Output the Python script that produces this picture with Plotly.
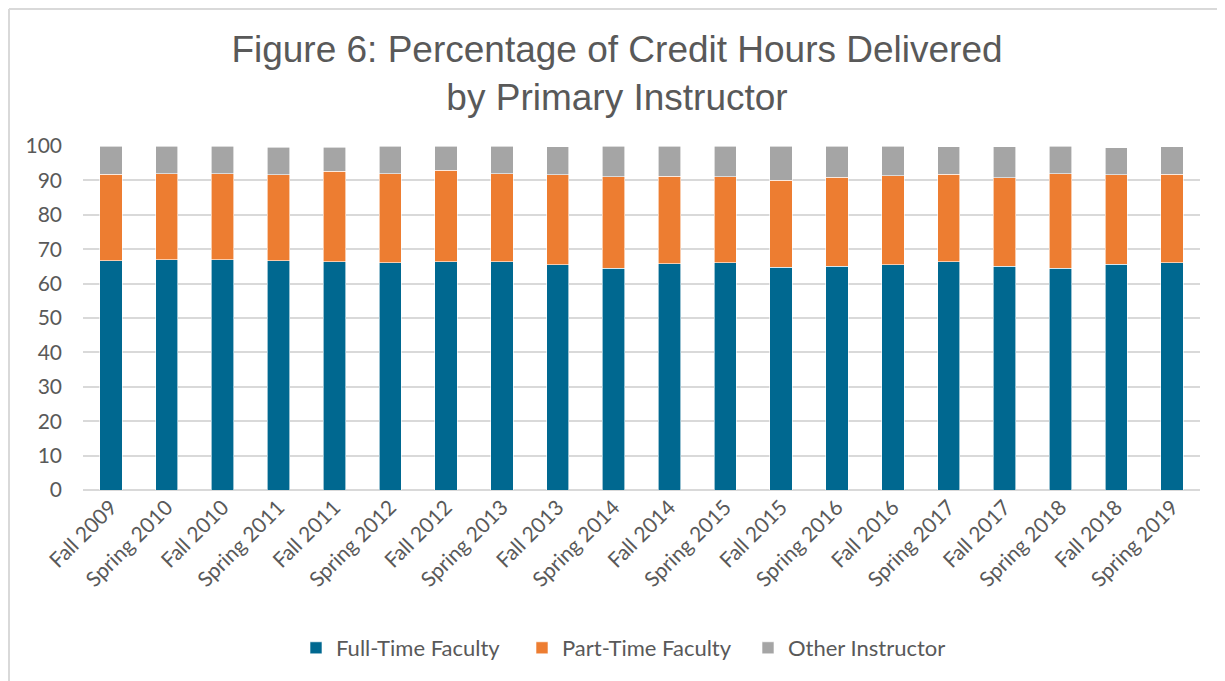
import plotly.graph_objects as go

terms = ["Fall 2009", "Spring 2010", "Fall 2010", "Spring 2011", "Fall 2011",
         "Spring 2012", "Fall 2012", "Spring 2013", "Fall 2013", "Spring 2014",
         "Fall 2014", "Spring 2015", "Fall 2015", "Spring 2016", "Fall 2016",
         "Spring 2017", "Fall 2017", "Spring 2018", "Fall 2018", "Spring 2019"]
full_time = [66.7, 66.9, 67.0, 66.7, 66.4, 66.1, 66.3, 66.3, 65.5, 64.4,
             65.8, 66.1, 64.7, 65.0, 65.5, 66.4, 65.0, 64.4, 65.6, 66.1]
part_time = [25.1, 25.0, 24.9, 24.9, 26.2, 25.8, 26.7, 25.6, 26.2, 26.6,
             25.4, 24.9, 25.4, 25.9, 25.8, 25.4, 25.7, 27.6, 26.0, 25.7]
other = [8.2, 8.1, 8.1, 8.0, 7.0, 8.1, 7.0, 8.1, 8.1, 9.0,
         8.8, 9.0, 9.9, 9.1, 8.7, 8.0, 9.1, 8.0, 7.9, 8.0]
y_ticks = list(range(0, 101, 10))

TXT = "#595959"
FONT = "Lato"

# the page body has an 8px margin; the figure is sized/offset to compensate
W, H = 1217, 673
OFF = 8

fig = go.Figure()
fig.add_bar(x=terms, y=full_time, name="Full-Time Faculty", marker_color="#006890",
            marker_line=dict(width=0.6, color="#ffffff"))
fig.add_bar(x=terms, y=part_time, name="Part-Time Faculty", marker_color="#ed7d31",
            marker_line=dict(width=0.6, color="#ffffff"))
fig.add_bar(x=terms, y=other, name="Other Instructor", marker_color="#a5a5a5",
            marker_line=dict(width=0.6, color="#ffffff"))

pl, pr, pt, pb = 83 - OFF, 1200 - OFF, 146 - OFF, 490 - OFF
pw, ph = pr - pl, pb - pt

def px(xp):
    return (xp - OFF - pl) / pw

def py(yp):
    return (pb - (yp - OFF)) / ph

fig.update_layout(
    barmode="stack",
    bargap=0.6,
    width=W, height=H,
    margin=dict(l=pl, r=W - pr, t=pt, b=H - pb),
    paper_bgcolor="white", plot_bgcolor="white",
    title=dict(text="Figure 6: Percentage of Credit Hours Delivered<br>by Primary Instructor",
               x=(617 - OFF) / W, xanchor="center", xref="container",
               y=1 - 54 / H, yanchor="middle", yref="container",
               font=dict(family="Liberation Sans, Arial", size=37, color=TXT)),
    font=dict(family=FONT, color=TXT),
    showlegend=True,
    legend=dict(orientation="h", x=px(296), xanchor="left",
                y=py(648), yanchor="middle",
                entrywidth=181, entrywidthmode="pixels",
                font=dict(family=FONT, size=22, color=TXT),
                traceorder="normal"),
    shapes=[
        dict(type="line", xref="paper", yref="paper",
             x0=px(9), x1=px(1240), y0=py(9), y1=py(9),
             line=dict(color="#d9d9d9", width=2)),
        dict(type="line", xref="paper", yref="paper",
             x0=px(9), x1=px(9), y0=py(9), y1=py(700),
             line=dict(color="#d9d9d9", width=2)),
    ],
)
fig.update_xaxes(tickangle=-45, tickfont=dict(family=FONT, size=21, color=TXT),
                 showgrid=False, showline=False, ticks="")
fig.update_yaxes(range=[0, 100], tickvals=y_ticks, showgrid=True, gridcolor="#d9d9d9",
                 gridwidth=1.5, zeroline=True, zerolinecolor="#d9d9d9", zerolinewidth=1.5,
                 tickfont=dict(family=FONT, size=21, color=TXT), ticks="", ticklen=0,
                 ticklabelstandoff=20, showline=False)

fig.write_html("out.html")
